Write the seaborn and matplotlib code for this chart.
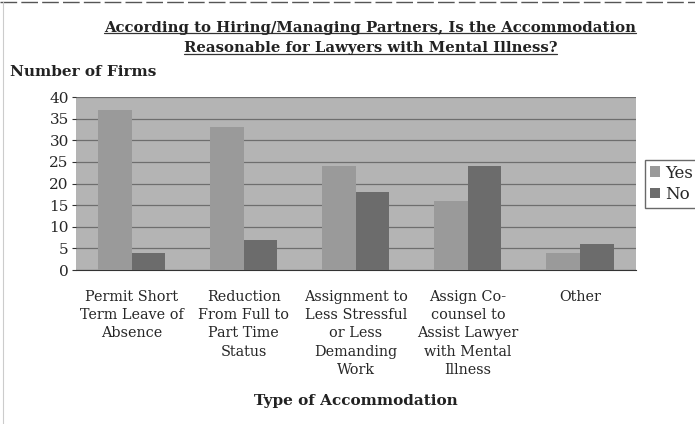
import pandas as pd
import seaborn as sns
import matplotlib.pyplot as plt
from matplotlib.lines import Line2D
from matplotlib.ticker import FixedLocator

categories = [
    'Permit Short\nTerm Leave of\nAbsence',
    'Reduction\nFrom Full to\nPart Time\nStatus',
    'Assignment to\nLess Stressful\nor Less\nDemanding\nWork',
    'Assign Co-\ncounsel to\nAssist Lawyer\nwith Mental\nIllness',
    'Other',
]
yes_counts = [37, 33, 24, 16, 4]
no_counts = [4, 7, 18, 24, 6]

df = pd.DataFrame({
    'Accommodation': categories * 2,
    'Answer': ['Yes'] * len(categories) + ['No'] * len(categories),
    'Firms': yes_counts + no_counts,
})

sns.set_style('white')
plt.rcParams['font.family'] = ['DejaVu Serif']

fig = plt.figure(figsize=(6.95, 4.24), dpi=100)
ax = fig.add_axes([0.109, 0.363, 0.806, 0.408])
ax.set_facecolor('#b4b4b4')

sns.barplot(data=df, x='Accommodation', y='Firms', hue='Answer',
            palette={'Yes': '#9a9a9a', 'No': '#6c6c6c'}, width=0.6,
            saturation=1, linewidth=0, ax=ax, zorder=3)

ax.set_ylim(0, 40)
ax.set_xlim(-0.5, len(categories) - 0.5)
ax.set_yticks(range(0, 41, 5))
ax.yaxis.grid(True, color='#6e6e6e', linewidth=0.9, zorder=1)
ax.set_axisbelow(True)
for s in ['top', 'right', 'left']:
    ax.spines[s].set_visible(False)
ax.spines['bottom'].set_color('#333333')
ax.tick_params(axis='y', labelsize=11, length=3, color='#333333', pad=2, left=True)
ax.tick_params(axis='x', which='major', length=0, labelsize=10.4, pad=14)
for lbl in ax.get_xticklabels():
    lbl.set_linespacing(1.4)
ax.xaxis.set_minor_locator(FixedLocator([i - 0.5 for i in range(len(categories) + 1)]))
ax.tick_params(axis='x', which='minor', length=4, color='#333333', direction='out')

ax.set_xlabel('Type of Accommodation', fontsize=11, fontweight='bold',
              labelpad=12, color='#222222')
ax.set_ylabel('')

t1 = fig.text(0.533, 0.935, 'According to Hiring/Managing Partners, Is the Accommodation',
              ha='center', va='center', fontsize=10.7, fontweight='bold', color='#222222')
t2 = fig.text(0.533, 0.886, 'Reasonable for Lawyers with Mental Illness?',
              ha='center', va='center', fontsize=10.7, fontweight='bold', color='#222222')
fig.text(0.015, 0.83, 'Number of Firms', ha='left', va='center', fontsize=11,
         fontweight='bold', color='#222222')

handles, labels = ax.get_legend_handles_labels()
ax.legend(handles, labels, loc='center left', bbox_to_anchor=(1.016, 0.5),
          frameon=True, fancybox=False, edgecolor='#444444', fontsize=12,
          handlelength=0.6, handleheight=0.6, handletextpad=0.3,
          borderpad=0.3, labelspacing=0.25, borderaxespad=0)

# underline the title lines
fig.canvas.draw()
inv = fig.transFigure.inverted()
for t in (t1, t2):
    bb = t.get_window_extent()
    (x0, y0), (x1, _) = inv.transform([(bb.x0, bb.y0), (bb.x1, bb.y1)])
    fig.add_artist(Line2D([x0, x1], [y0 + 0.004, y0 + 0.004], transform=fig.transFigure,
                          color='#333333', linewidth=0.9))

# scanned page frame
fig.add_artist(Line2D([0, 1], [0.995, 0.995], transform=fig.transFigure,
                      color='#555555', linewidth=1.0, linestyle=(0, (12, 3))))
fig.add_artist(Line2D([0.005, 0.005], [0, 0.995], transform=fig.transFigure,
                      color='#cccccc', linewidth=0.8))

fig.savefig('out.png', dpi=100)
